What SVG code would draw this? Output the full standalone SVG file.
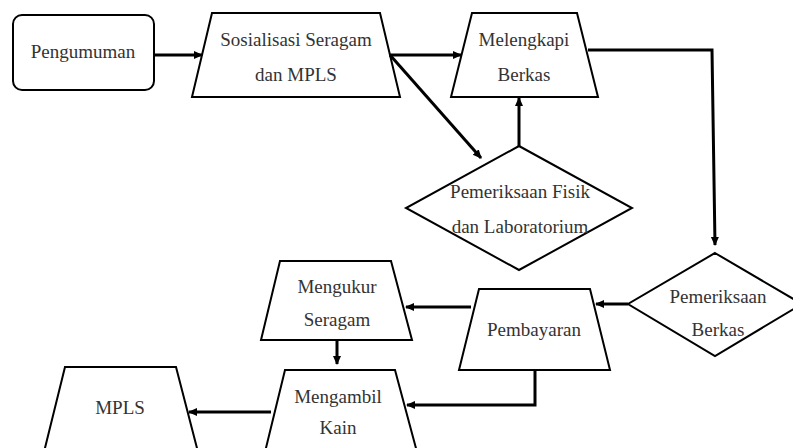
<svg xmlns="http://www.w3.org/2000/svg" width="793" height="448" viewBox="0 0 793 448">
<style>
.s{fill:#fff;stroke:#000;stroke-width:2}
.t{font-family:'Liberation Serif',Tinos,'Times New Roman',Times,'DejaVu Serif',serif;font-size:19px;fill:#333;text-anchor:middle}
.c{fill:none;stroke:#000;stroke-width:3}
</style>
<defs>
<marker id="a" markerWidth="10" markerHeight="10" refX="8" refY="5" orient="auto" markerUnits="userSpaceOnUse">
<path d="M0,1 L9,5 L0,9 Z" fill="#000"/>
</marker>
</defs>
<rect width="793" height="448" fill="#fff"/>
<g id="pengumuman"><rect class="s" x="13" y="15" width="141" height="75" rx="9"/><text class="t" x="83" y="58">Pengumuman</text></g>
<g id="sosialisasi"><polygon class="s" points="212,13 380,13 400,97 192,97"/><text class="t" x="296" y="46">Sosialisasi Seragam</text><text class="t" x="296" y="81">dan MPLS</text></g>
<g id="melengkapi"><polygon class="s" points="472,13 577,13 598,97 451,97"/><text class="t" x="524" y="46">Melengkapi</text><text class="t" x="524" y="81">Berkas</text></g>
<g id="fisik"><polygon class="s" points="519,146 632,208 519,270 406,208"/><text class="t" x="520" y="198">Pemeriksaan Fisik</text><text class="t" x="520" y="233">dan Laboratorium</text></g>
<g id="berkas"><polygon class="s" points="715,253 802,304 715,356 628,304"/><text class="t" x="718" y="303">Pemeriksaan</text><text class="t" x="718" y="336">Berkas</text></g>
<g id="pembayaran"><polygon class="s" points="479,289 590,289 610,370 459,370"/><text class="t" x="534" y="336">Pembayaran</text></g>
<g id="mengukur"><polygon class="s" points="280,261 391,261 412,340 261,340"/><text class="t" x="337" y="293">Mengukur</text><text class="t" x="337" y="326">Seragam</text></g>
<g id="mengambil"><polygon class="s" points="285,370 395,370 417,452 265,452"/><text class="t" x="338" y="403">Mengambil</text><text class="t" x="338" y="434">Kain</text></g>
<g id="mpls"><polygon class="s" points="65,367 176,367 198,452 44,452"/><text class="t" x="120" y="414">MPLS</text></g>
<g id="connectors">
<path class="c" d="M154,55 L202,55" marker-end="url(#a)"/>
<path class="c" d="M390,55 L461,55" marker-end="url(#a)"/>
<path class="c" d="M390,55 L481,158" marker-end="url(#a)"/>
<path class="c" d="M519,146 L519,98" marker-end="url(#a)"/>
<path class="c" d="M588,50 L712,50 L715,245" marker-end="url(#a)"/>
<path class="c" d="M628,304 L596,304" marker-end="url(#a)"/>
<path class="c" d="M471,307 L406,307" marker-end="url(#a)"/>
<path class="c" d="M337,340 L337,364" marker-end="url(#a)"/>
<path class="c" d="M535,370 L535,405 L407,405" marker-end="url(#a)"/>
<path class="c" d="M271,412 L189,412" marker-end="url(#a)"/>
</g>
</svg>
